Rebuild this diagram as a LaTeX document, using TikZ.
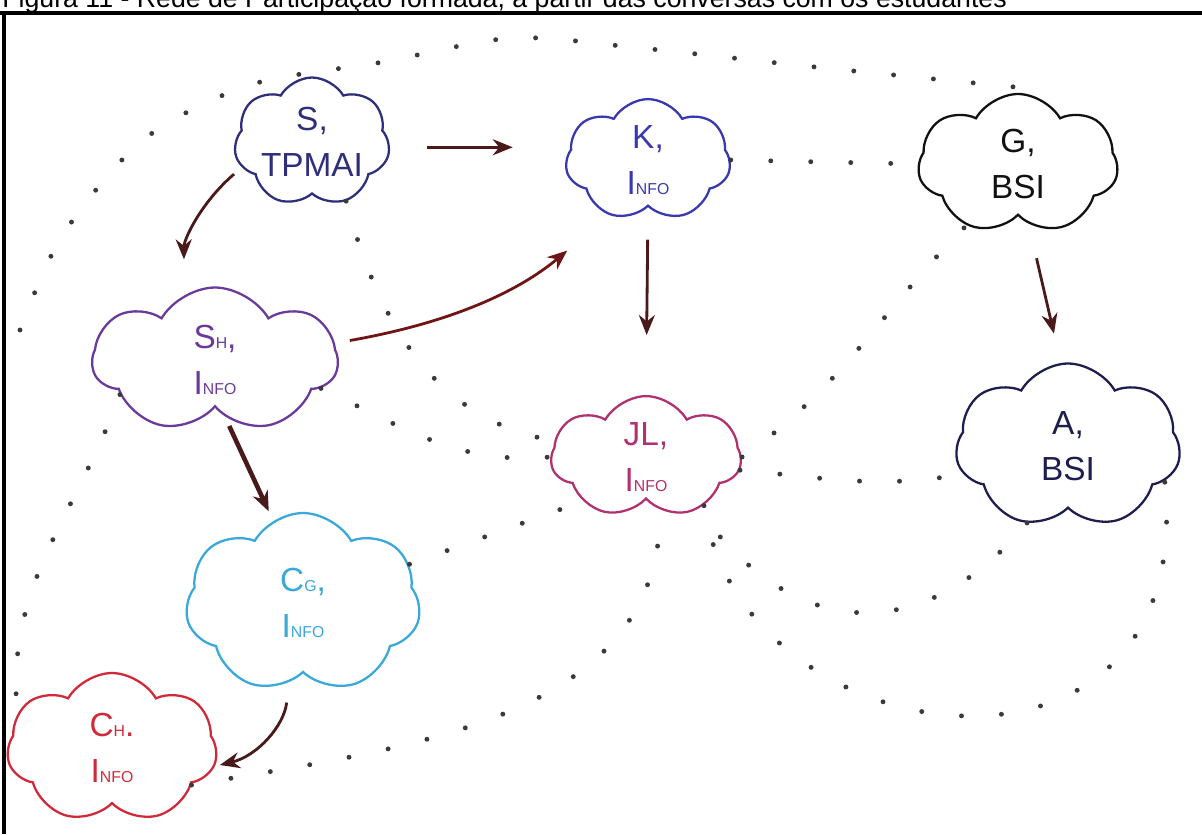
\documentclass[tikz,border=0pt]{standalone}
\usepackage{fontspec}
\setmainfont{Liberation Sans}
\usetikzlibrary{shapes.symbols, arrows.meta, positioning}
\definecolor{corS}{HTML}{2E2E7A}
\definecolor{corK}{HTML}{3838B0}
\definecolor{corG}{HTML}{111111}
\definecolor{corSh}{HTML}{6A3A9A}
\definecolor{corJL}{HTML}{B03070}
\definecolor{corA}{HTML}{1E1E4E}
\definecolor{corCg}{HTML}{3AA8D8}
\definecolor{corCh}{HTML}{D02A3A}
\definecolor{seta}{HTML}{4A1A1A}
\definecolor{ponto}{HTML}{3A3A3A}

\begin{document}
\begin{tikzpicture}[x=0.02cm, y=-0.02cm]
		\tikzstyle{nuvem} = [cloud, cloud puffs=7, cloud puff arc=120, aspect=1.4, line width=1.3pt, inner sep=0pt, align=center, font=\fontsize{19}{26}\selectfont]
		\tikzstyle{seta} = [draw=seta, line width=1.6pt, -{Stealth[length=4mm, width=3.2mm]}]
		\tikzstyle{pontos} = [draw=ponto, line width=2.8pt, line cap=round, dash pattern=on 0pt off 0.8cm]
		\useasboundingbox (0,0) rectangle (1202,834);
		\node[anchor=base west, inner sep=0pt, font=\fontsize{15.2}{17}\selectfont] (titulo) at (2,8) {Figura 11 - Rede de Participação formada, a partir das conversas com os estudantes};
		\draw[line width=2.8pt] (0,13) -- (1202,13);
		\draw[line width=2.8pt] (4,13) -- (4,834);

		\node (S) [nuvem, draw=corS, text=corS, minimum width=3cm, minimum height=2.3cm] at (312,142) {S,\\TPMAI};
		\node (K) [nuvem, draw=corK, text=corK, minimum width=3.3cm, minimum height=2.4cm] at (648,160) {K,\\I{\small NFO}};
		\node (G) [nuvem, draw=corG, text=corG, minimum width=4cm, minimum height=2.8cm] at (1018,164) {G,\\BSI};
		\node (Sh) [nuvem, draw=corSh, text=corSh, minimum width=4.9cm, minimum height=2.9cm] at (215,360) {S{\small H},\\I{\small NFO}};
		\node (JL) [nuvem, draw=corJL, text=corJL, minimum width=3.8cm, minimum height=2.3cm] at (646,457) {JL,\\I{\small NFO}};
		\node (A) [nuvem, draw=corA, text=corA, minimum width=4.5cm, minimum height=3.3cm] at (1068,446) {A,\\BSI};
		\node (Cg) [nuvem, draw=corCg, text=corCg, minimum width=4.7cm, minimum height=3.6cm] at (303,603) {C{\small G},\\I{\small NFO}};
		\node (Ch) [nuvem, draw=corCh, text=corCh, minimum width=4.2cm, minimum height=3cm] at (112,748) {C{\small H}.\\I{\small NFO}};

		% conversas (pontilhado)
		\draw[pontos] plot[smooth] coordinates {(20,330) (62,236) (143,140) (250,85) (383,62) (513,38) (640,48) (815,67) (1045,90)};
		\path[pontos] (S.-60) to[out=-75, in=170] (JL.170);
		\path[pontos] (Sh.-15) to[out=-25, in=185] (JL.west);
		\path[pontos] (K.east) -- (G.west);
		\path[pontos] (JL.east) to[out=35, in=225] (G.230);
		\path[pontos] (JL.-8) to[out=-5, in=190] (A.195);
		\path[pontos] (Cg.20) -- (JL.215);
		\path[pontos] (JL.-40) .. controls (740,760) and (1200,820) .. (A.-20);
		\path[pontos] (A.-118) .. controls (930,640) and (800,650) .. (JL.-45);
		\path[pontos] (Ch.-25) to[out=10, in=-90] (JL.-75);
		\path[pontos] (Sh.200) to[out=-110, in=95] (Ch.160);

		% setas
		\path[seta, shorten <=0.75cm, shorten >=1.05cm] ([yshift=-3pt]S.east) -- ([yshift=-3pt]S.east -| K.west);
		\path[seta, shorten <=0.2cm, shorten >=0.7cm] (S.200) to[bend right=25] (Sh.115);
		\path[seta, draw=seta!80!red, shorten <=0.3cm, shorten >=1.1cm] (Sh.8) to[bend right=15] (K.235);
		\path[seta, shorten <=0.65cm, shorten >=1.2cm] (K.south) -- (JL.north);
		\path[seta, shorten <=0.7cm, shorten >=0.6cm] (G.-80) -- (A.95);
		\path[seta, line width=2.6pt, shorten <=0.2cm, shorten >=0.2cm] (Sh.-80) -- (Cg.110);
		\path[seta, shorten <=0.4cm, shorten >=0.1cm] (Cg.-100) to[bend left=35] (Ch.-10);
\end{tikzpicture}
\end{document}
